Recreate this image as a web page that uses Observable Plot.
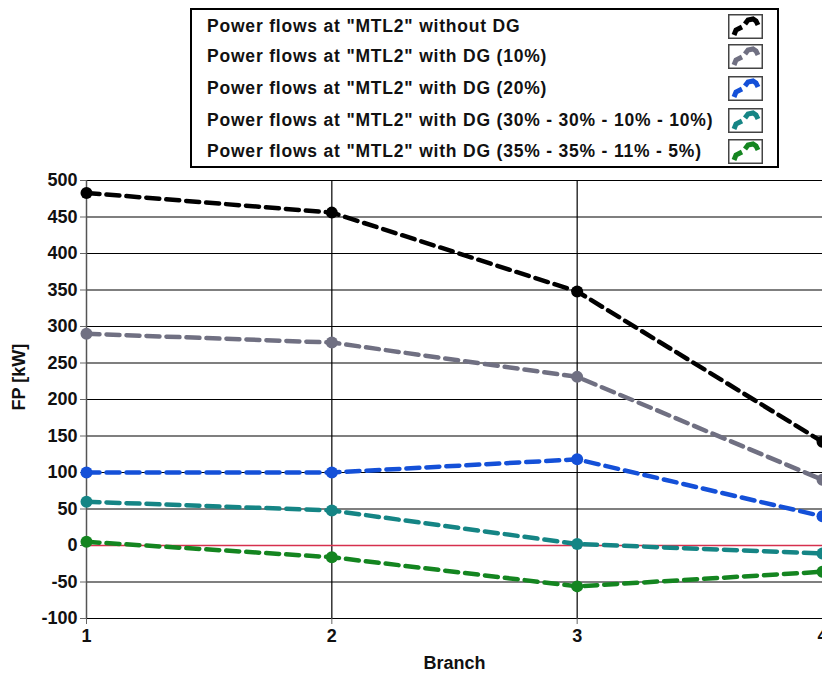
<!DOCTYPE html>
<html><head><meta charset="utf-8">
<script src="https://cdn.jsdelivr.net/npm/d3@7"></script>
<script src="https://cdn.jsdelivr.net/npm/@observablehq/plot@0.6"></script>
<style>
body{margin:0;background:#fff;width:822px;height:675px;overflow:hidden;position:relative;font-family:"Liberation Sans",Arial,sans-serif;}
#legend{position:absolute;left:190px;top:8px;width:589px;height:160px;border:2px solid #000;box-sizing:border-box;background:#fff;}
.row{position:absolute;left:15px;font-weight:bold;font-size:17.5px;letter-spacing:0.8px;line-height:20px;white-space:nowrap;color:#111;}
.icon{position:absolute;left:536px;width:35px;height:25px;}
#chart{position:absolute;left:0;top:0;}
</style>
</head><body>
<div id="chart"></div>
<div id="legend"></div>
<script>
const branches = [1, 2, 3, 4];
const seriesNames = [
  'Power flows at "MTL2" without DG',
  'Power flows at "MTL2" with DG (10%)',
  'Power flows at "MTL2" with DG (20%)',
  'Power flows at "MTL2" with DG (30% - 30% - 10% - 10%)',
  'Power flows at "MTL2" with DG (35% - 35% - 11% - 5%)'
];
const withoutDG = [483, 456, 348, 142];
const dg10 = [290, 278, 231, 90];
const dg20 = [100, 100, 118, 40];
const dg30 = [60, 48, 2, -11];
const dg35 = [5, -16, -56, -36];
const seriesColors = ["#000000", "#707082", "#1450d8", "#158585", "#148520"];
const yTicks = [-100, -50, 0, 50, 100, 150, 200, 250, 300, 350, 400, 450, 500];

const allValues = [withoutDG, dg10, dg20, dg30, dg35];
const data = allValues.flatMap((vals, i) => vals.map((v, j) => ({series: seriesNames[i], branch: branches[j], value: v})));

const plot = Plot.plot({
  width: 822, height: 675,
  marginLeft: 86, marginRight: 0, marginTop: 180, marginBottom: 57,
  x: {domain: [1, 4]},
  y: {domain: [-100, 500]},
  color: {domain: seriesNames, range: seriesColors},
  style: {fontFamily: '"Liberation Sans", Arial, sans-serif', fontSize: "18px", fontWeight: "bold", color: "#111", background: "transparent", overflow: "hidden"},
  marks: [
    Plot.gridY(yTicks, {stroke: "#000", strokeOpacity: 1, strokeWidth: 1.2}),
    Plot.gridX([2, 3], {stroke: "#000", strokeOpacity: 1, strokeWidth: 1.2}),
    Plot.ruleX([1], {stroke: "#555", strokeWidth: 1.5}),
    Plot.axisY({ticks: yTicks, tickSize: 6, tickPadding: 3, stroke: "#666", tickFormat: d => String(d), label: null}),
    Plot.axisX({ticks: branches, tickSize: 6, tickPadding: 5, tickFormat: d => String(d), stroke: "#666", label: "Branch", labelAnchor: "center", labelArrow: "none", labelOffset: 50}),
    Plot.text(["FP [kW]"], {frameAnchor: "left", dx: -67, dy: 11, rotate: -90, fontSize: 18, fontWeight: "bold", fill: "#111"}),
    Plot.ruleY([0], {stroke: "#d6304e", strokeWidth: 1.5}),
    Plot.line(data, {x: "branch", y: "value", z: "series", stroke: "series", strokeWidth: 4.5, strokeDasharray: "13,7"}),
    Plot.dot(data, {x: "branch", y: "value", fill: "series", r: 6})
  ]
});
document.getElementById("chart").appendChild(plot);

const legend = document.getElementById("legend");
const rowTops = [6, 36, 68, 100, 131];
const iconTops = [4, 34, 66, 98, 129];
seriesNames.forEach((name, i) => {
  const r = document.createElement("div");
  r.className = "row";
  r.style.top = rowTops[i] + "px";
  r.textContent = name;
  legend.appendChild(r);
  const ic = document.createElementNS("http://www.w3.org/2000/svg", "svg");
  ic.setAttribute("class", "icon");
  ic.style.top = iconTops[i] + "px";
  ic.setAttribute("viewBox", "0 0 35 25");
  ic.innerHTML = `<rect x="0.75" y="0.75" width="33.5" height="23.5" fill="#fff" stroke="#444" stroke-width="1.5"/>` +
    `<path d="M6,21 L8,16 L14,13" fill="none" stroke="${seriesColors[i]}" stroke-width="5"/>` +
    `<path d="M17,10 L20,6 L25,5 L28,7 L30,11" fill="none" stroke="${seriesColors[i]}" stroke-width="5"/>`;
  legend.appendChild(ic);
});
</script>
</body></html>
